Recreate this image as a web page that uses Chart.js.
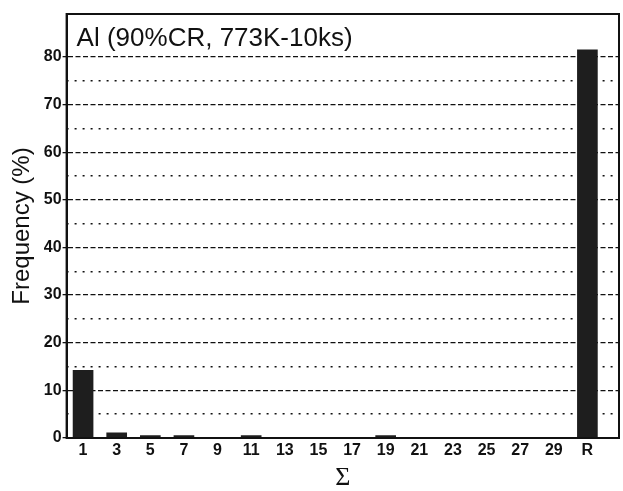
<!DOCTYPE html>
<html>
<head>
<meta charset="utf-8">
<script src="https://cdn.jsdelivr.net/npm/chart.js@4"></script>
<style>
  html, body { margin: 0; padding: 0; background: #fff; }
  #wrap { width: 623px; height: 491px; }
</style>
</head>
<body>
<div id="wrap"><canvas id="mycanvas"></canvas></div>
<script>
// categories (Sigma values) and frequencies in %
var sigma = ['1', '3', '5', '7', '9', '11', '13', '15', '17', '19', '21', '23', '25', '27', '29', 'R'];
var frequency = [14.2, 1.1, 0.5, 0.5, 0, 0.5, 0, 0, 0, 0.5, 0, 0, 0, 0, 0, 81.5];
var yTicks = [0, 10, 20, 30, 40, 50, 60, 70, 80];
var yMinorTicks = [5, 15, 25, 35, 45, 55, 65, 75];
var label = 'Al (90%CR, 773K-10ks)';

var points = [];
for (var i in frequency) {
    points.push({ x: Number(i), y: frequency[i] });
}

// box round the plot + text inside it
var framePlugin = {
    id: 'frame',
    afterDatasetsDraw: function (chart) {
        var a = chart.chartArea;
        var ctx = chart.ctx;
        ctx.save();
        ctx.strokeStyle = '#111';
        ctx.lineWidth = 2;
        ctx.strokeRect(a.left, a.top, a.right - a.left, a.bottom - a.top);
        ctx.fillStyle = '#111';
        ctx.font = '26px "Liberation Sans", Arial, sans-serif';
        ctx.textBaseline = 'alphabetic';
        ctx.fillText(label, a.left + 10, a.top + 32);
        ctx.restore();
    }
};

var ctx = document.getElementById('mycanvas');
var chart = new Chart(ctx, {
    type: 'bar',
    data: {
        datasets: [{
            label: 'Frequency',
            data: points,
            backgroundColor: '#1e1e1e',
            borderWidth: 0,
            barThickness: 20
        }]
    },
    options: {
        responsive: true,
        maintainAspectRatio: false,
        animation: false,
        layout: { padding: { top: 14, right: 4, bottom: 0, left: 8 } },
        plugins: {
            legend: { display: false },
            tooltip: { enabled: false }
        },
        scales: {
            x: {
                type: 'linear',
                offset: false,
                min: -0.49,
                max: 15.94,
                grid: { display: false, drawTicks: false },
                border: { display: true, color: '#111', width: 2 },
                ticks: {
                    stepSize: 1,
                    autoSkip: false,
                    includeBounds: false,
                    maxRotation: 0,
                    padding: 5,
                    color: '#111',
                    font: { family: '"Liberation Sans", Arial, sans-serif', size: 16, weight: 'bold', lineHeight: 1 },
                    callback: function (v) { return sigma[v] !== undefined ? sigma[v] : ''; }
                },
                title: {
                    display: true,
                    text: 'Σ',
                    color: '#111',
                    padding: { top: 1, bottom: 0 },
                    font: { family: '"Liberation Serif", "DejaVu Serif", serif', size: 26, lineHeight: 1 }
                }
            },
            y: {
                min: 0,
                max: 89,
                grid: {
                    color: '#111',
                    lineWidth: 1.3,
                    drawTicks: true,
                    tickLength: 4,
                    tickColor: '#111'
                },
                border: { display: true, color: '#111', width: 2, dash: [5, 2.5] },
                afterBuildTicks: function (axis) {
                    axis.ticks = yTicks.map(function (v) { return { value: v }; });
                },
                ticks: {
                    padding: 1,
                    color: '#111',
                    font: { family: '"Liberation Sans", Arial, sans-serif', size: 16, weight: 'bold' }
                },
                title: {
                    display: true,
                    text: 'Frequency (%)',
                    color: '#111',
                    padding: { top: 0, bottom: 6 },
                    font: { family: '"Liberation Sans", Arial, sans-serif', size: 24 }
                }
            },
            y2: {
                position: 'right',
                min: 0,
                max: 89,
                grid: { drawTicks: false, lineWidth: 1.5, color: '#111' },
                border: { display: false, dash: [2, 6] },
                afterBuildTicks: function (axis) {
                    axis.ticks = yMinorTicks.map(function (v) { return { value: v }; });
                },
                ticks: { display: false }
            }
        }
    },
    plugins: [framePlugin]
});
</script>
</body>
</html>
